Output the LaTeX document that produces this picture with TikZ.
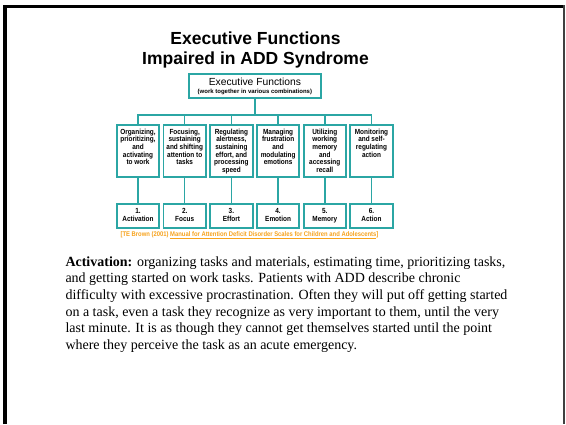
\documentclass[tikz,border=0pt]{standalone}
\usepackage{fontspec}
\setmainfont{Liberation Serif}
\newfontfamily\arialf{Liberation Sans}
\newfontfamily\narrowf[FakeStretch=0.87]{Liberation Sans}
\definecolor{tealline}{RGB}{43,166,164}
\definecolor{citeorange}{RGB}{247,162,27}
\newcommand\boxtxt[2]{\parbox[c][#1][t]{41pt}{\centering #2}}
\begin{document}
\begin{tikzpicture}[x=1pt,y=1pt,
  fbox/.style={draw=tealline, line width=1.8pt, fill=white, minimum width=42.4pt,
    minimum height=51.7pt, inner sep=0pt, font=\narrowf\bfseries\fontsize{7.4}{7.6}\selectfont},
  abox/.style={draw=tealline, line width=1.8pt, fill=white, minimum width=42.4pt,
    minimum height=24pt, inner sep=0pt, font=\narrowf\bfseries\fontsize{7.4}{7.6}\selectfont},
  rootbox/.style={draw=tealline, line width=1.8pt, fill=white, minimum width=131.7pt,
    minimum height=23.7pt, inner sep=0pt},
  conn/.style={draw=tealline, line width=1.5pt}]
\useasboundingbox (0,0) rectangle (566,-424);
\fill[white] (0,0) rectangle (566,-424);
% frame
\draw[line width=3.5pt] (5,-424) -- (5,-6.5) -- (563,-6.5);
\draw[line width=1.6pt, black!75] (564.2,-5) -- (564.2,-424);
% title
\node[font=\arialf\bfseries\fontsize{17.5}{20.3}\selectfont, align=center, anchor=north, inner sep=0pt]
  (title) at (255.5,-31.5) {Executive Functions\\Impaired in ADD Syndrome};
% root
\node[rootbox] (root) at (254.85,-85.85) {\parbox[c][15.1pt][t]{128pt}{\centering
  {\arialf\fontsize{10.3}{10}\selectfont Executive Functions\par}%
  \arialf\bfseries\fontsize{6}{7.3}\selectfont (work together in various combinations)}};
\coordinate (bus) at (254.75,-115);
% function boxes
\node[fbox] (f1) at (138,-150.85) {\boxtxt{43.9pt}{Organizing,\\prioritizing,\\and\\activating\\to work}};
\node[fbox] (f2) at (184.7,-150.85) {\boxtxt{43.9pt}{Focusing,\\sustaining\\and shifting\\attention to\\tasks}};
\node[fbox] (f3) at (231.4,-150.85) {\boxtxt{43.9pt}{Regulating\\alertness,\\sustaining\\effort, and\\processing\\speed}};
\node[fbox] (f4) at (278.1,-150.85) {\boxtxt{43.9pt}{Managing\\frustration\\and\\modulating\\emotions}};
\node[fbox] (f5) at (324.8,-150.85) {\boxtxt{43.9pt}{Utilizing\\working\\memory\\and\\accessing\\recall}};
\node[fbox] (f6) at (371.5,-150.85) {\boxtxt{43.9pt}{Monitoring\\and self-\\regulating\\action}};
% area boxes
\node[abox] (a1) at (138,-216.3) {\boxtxt{15pt}{1.\\Activation}};
\node[abox] (a2) at (184.7,-216.3) {\boxtxt{15pt}{2.\\Focus}};
\node[abox] (a3) at (231.4,-216.3) {\boxtxt{15pt}{3.\\Effort}};
\node[abox] (a4) at (278.1,-216.3) {\boxtxt{15pt}{4.\\Emotion}};
\node[abox] (a5) at (324.8,-216.3) {\boxtxt{15pt}{5.\\Memory}};
\node[abox] (a6) at (371.5,-216.3) {\boxtxt{15pt}{6.\\Action}};
% connectors
\foreach \i in {1,...,6} {
  \draw[conn] (root.south) -- (root.south |- bus) -| (f\i.north);
  \draw[conn] (f\i.south) -- (a\i.north);
}
% citation
\node[font=\narrowf\bfseries\fontsize{6.75}{7}\selectfont, text=citeorange, anchor=base, inner sep=0pt]
  (cite) at (249.5,-236.5) {[TE Brown (2001) \underline{Manual for Attention Deficit Disorder Scales for Children and Adolescents}]};
% body
\node[anchor=north west, inner sep=0pt, align=left, font=\fontsize{14}{16.7}\selectfont]
  (body) at (65.3,-256.2) {\textbf{Activation:} organizing tasks and materials, estimating time, prioritizing tasks,\\
and getting started on work tasks. Patients with ADD describe chronic\\
difficulty with excessive procrastination. Often they will put off getting started\\
on a task, even a task they recognize as very important to them, until the very\\
last minute. It is as though they cannot get themselves started until the point\\
where they perceive the task as an acute emergency.};
\end{tikzpicture}
\end{document}
